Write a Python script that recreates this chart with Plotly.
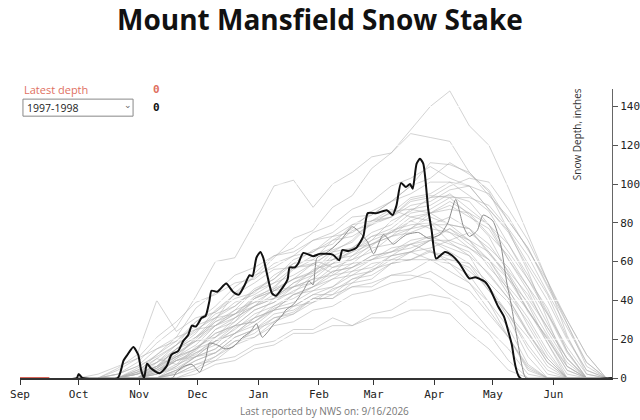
import pandas as pd
import plotly.graph_objects as go

SEASON_START = "1997-09-01"
MONTH_TICKS = ["1997-09-01", "1997-10-01", "1997-11-01", "1997-12-01", "1998-01-01",
               "1998-02-01", "1998-03-01", "1998-04-01", "1998-05-01", "1998-06-01"]
MONTH_LABELS = ["Sep", "Oct", "Nov", "Dec", "Jan", "Feb", "Mar", "Apr", "May", "Jun"]
Y_TICKS = [0, 20, 40, 60, 80, 100, 120, 140]

# day offsets (from Sep 1) for historical seasons (every 10 days)
grid_days = [30, 40, 50, 60, 70, 80, 90, 100, 110, 120, 130, 140, 150, 160, 170, 180,
             190, 200, 210, 220, 230, 240, 250, 260, 270, 280, 290, 300]

history = [
    [0, 0, 0, 2, 6, 12, 20, 30, 44, 52, 62, 72, 76, 88, 94, 108, 116, 128, 140, 148, 130, 120, 98, 74, 50, 22, 2, 0],
    [0, 0, 2, 8, 18, 26, 42, 60, 62, 80, 99, 102, 88, 100, 106, 114, 116, 126, 124, 122, 106, 96, 76, 55, 30, 6, 0, 0],
    [0, 0, 0, 0, 5, 11, 17, 27, 33, 42, 46, 57, 58, 66, 70, 80, 83, 92, 94, 93, 84, 73, 54, 38, 18, 0, 0, 0],
    [0, 0, 0, 4, 10, 7, 16, 21, 31, 37, 46, 51, 59, 54, 63, 68, 76, 79, 80, 70, 63, 46, 31, 11, 0, 0, 0, 0],
    [0, 0, 0, 0, 2, 6, 13, 17, 26, 31, 41, 44, 53, 59, 66, 71, 81, 86, 93, 94, 91, 79, 69, 51, 36, 14, 0, 0],
    [0, 0, 5, 12, 40, 24, 31, 34, 43, 49, 56, 57, 63, 67, 76, 79, 86, 87, 85, 79, 71, 57, 46, 27, 10, 0, 0, 0],
    [0, 0, 0, 0, 0, 4, 9, 13, 21, 25, 31, 34, 41, 41, 49, 51, 59, 61, 66, 59, 53, 39, 26, 7, 0, 0, 0, 0],
    [0, 0, 0, 3, 12, 19, 29, 34, 41, 44, 53, 59, 66, 69, 79, 84, 91, 99, 111, 110, 106, 94, 83, 66, 50, 30, 12, 0],
    [0, 0, 0, 0, 3, 10, 21, 27, 33, 37, 43, 47, 56, 59, 65, 69, 75, 77, 83, 79, 77, 64, 53, 34, 21, 4, 0, 0],
    [0, 0, 0, 0, 0, 2, 5, 11, 17, 25, 29, 37, 39, 46, 49, 56, 59, 65, 61, 59, 49, 39, 21, 5, 0, 0, 0, 0],
    [0, 0, 2, 6, 15, 21, 36, 44, 53, 57, 63, 65, 71, 75, 83, 84, 91, 95, 101, 101, 99, 87, 76, 59, 43, 21, 4, 0],
    [0, 0, 0, 0, 5, 12, 19, 21, 27, 29, 36, 39, 45, 47, 55, 57, 63, 65, 71, 67, 63, 54, 41, 24, 8, 0, 0, 0],
    [0, 0, 0, 2, 4, 9, 12, 21, 29, 41, 45, 51, 54, 63, 67, 75, 79, 87, 89, 95, 87, 79, 61, 45, 24, 8, 0, 0],
    [0, 0, 0, 0, 8, 17, 24, 33, 37, 46, 51, 59, 61, 57, 61, 65, 73, 77, 85, 87, 85, 74, 63, 47, 33, 13, 0, 0],
    [0, 0, 0, 0, 0, 0, 4, 9, 11, 17, 19, 25, 25, 31, 27, 33, 35, 41, 43, 41, 31, 23, 9, 0, 0, 0, 0, 0],
    [0, 0, 4, 10, 21, 29, 39, 43, 49, 51, 59, 63, 71, 73, 79, 81, 87, 83, 81, 75, 71, 61, 51, 35, 20, 4, 0, 0],
    [0, 0, 0, 0, 2, 9, 14, 25, 31, 41, 47, 56, 61, 71, 77, 86, 91, 99, 103, 111, 105, 97, 81, 67, 47, 28, 8, 0],
    [0, 0, 0, 0, 0, 4, 11, 15, 23, 27, 35, 37, 43, 47, 53, 55, 61, 61, 61, 55, 49, 35, 21, 4, 0, 0, 0, 0],
    [0, 0, 0, 3, 6, 15, 21, 31, 37, 45, 49, 57, 59, 65, 67, 73, 75, 81, 77, 75, 67, 59, 43, 29, 12, 0, 0, 0],
    [0, 0, 0, 0, 4, 10, 15, 23, 27, 35, 39, 47, 51, 59, 61, 69, 73, 81, 85, 91, 85, 79, 65, 51, 33, 16, 2, 0],
    [0, 0, 0, 0, 0, 6, 15, 19, 27, 29, 35, 37, 43, 43, 47, 49, 53, 53, 51, 43, 37, 25, 15, 2, 0, 0, 0, 0],
    [0, 0, 2, 6, 11, 17, 29, 37, 47, 54, 63, 67, 75, 79, 87, 91, 99, 103, 109, 103, 99, 87, 75, 57, 40, 20, 4, 0],
    [0, 0, 0, 0, 3, 9, 13, 19, 23, 31, 35, 43, 47, 55, 57, 63, 65, 71, 73, 77, 69, 61, 45, 31, 14, 0, 0, 0],
    [0, 0, 0, 2, 10, 17, 25, 27, 35, 39, 45, 47, 51, 53, 59, 61, 65, 67, 71, 65, 59, 45, 33, 15, 2, 0, 0, 0],
    [0, 0, 0, 0, 0, 3, 9, 13, 21, 25, 33, 35, 41, 41, 47, 47, 53, 55, 61, 61, 59, 49, 39, 23, 10, 0, 0, 0],
    [0, 0, 0, 4, 8, 13, 19, 29, 35, 45, 51, 61, 65, 73, 75, 81, 83, 89, 91, 97, 99, 95, 81, 67, 48, 30, 12, 0],
    [0, 0, 0, 0, 2, 5, 11, 15, 23, 29, 37, 41, 47, 51, 57, 61, 67, 69, 73, 69, 65, 53, 41, 23, 8, 0, 0, 0],
    [0, 0, 0, 2, 6, 11, 15, 23, 27, 35, 39, 45, 49, 57, 59, 67, 69, 77, 79, 83, 77, 69, 55, 43, 26, 10, 0, 0],
    [0, 0, 0, 0, 0, 0, 2, 7, 9, 15, 17, 23, 23, 27, 27, 31, 31, 35, 35, 33, 23, 15, 4, 0, 0, 0, 0, 0],
    [0, 0, 0, 5, 12, 21, 25, 31, 33, 39, 41, 49, 55, 65, 71, 81, 85, 93, 95, 101, 94, 86, 69, 53, 34, 14, 0, 0],
    [0, 0, 0, 0, 4, 11, 15, 25, 29, 37, 41, 47, 49, 55, 57, 63, 65, 69, 65, 63, 55, 47, 33, 21, 6, 0, 0, 0],
    [0, 2, 6, 10, 15, 19, 27, 31, 39, 43, 49, 53, 59, 61, 67, 69, 73, 75, 79, 79, 77, 65, 53, 35, 18, 2, 0, 0],
    [0, 0, 0, 0, 0, 2, 7, 11, 19, 23, 31, 33, 39, 43, 51, 55, 63, 65, 71, 71, 75, 67, 57, 41, 26, 10, 0, 0],
    [0, 0, 0, 0, 3, 9, 11, 19, 25, 33, 37, 43, 45, 51, 53, 59, 61, 65, 67, 71, 67, 61, 47, 35, 20, 6, 0, 0],
    [0, 0, 0, 2, 5, 15, 23, 35, 43, 53, 57, 63, 65, 71, 73, 79, 83, 91, 93, 99, 103, 101, 87, 71, 50, 28, 6, 0],
    [0, 0, 0, 0, 0, 4, 11, 13, 19, 21, 27, 29, 35, 37, 43, 45, 49, 51, 55, 49, 45, 33, 21, 6, 0, 0, 0, 0],
    [0, 0, 0, 3, 8, 15, 19, 27, 31, 37, 41, 49, 53, 61, 63, 71, 75, 83, 85, 89, 83, 77, 61, 47, 28, 10, 0, 0],
    [0, 0, 0, 0, 2, 7, 11, 19, 23, 31, 35, 43, 47, 53, 55, 61, 63, 69, 71, 77, 71, 65, 51, 39, 22, 6, 0, 0],
    [0, 0, 0, 0, 6, 15, 21, 29, 33, 41, 45, 51, 55, 61, 65, 73, 77, 85, 87, 93, 93, 89, 77, 63, 44, 26, 8, 0],
    [0, 0, 0, 0, 0, 2, 7, 9, 17, 21, 29, 33, 41, 45, 51, 53, 59, 61, 65, 61, 57, 45, 33, 17, 4, 0, 0, 0],
]

# a darker highlighted season
mid_days = [40, 78, 80, 84, 88, 92, 95, 97, 101, 105, 109, 114, 118, 121, 124, 127, 130, 134, 136,
            140, 145, 148, 150, 152, 156, 160, 165, 170, 174, 178, 181, 186, 191, 195, 198, 204,
            209, 215, 219, 223, 227, 230, 234, 237, 242, 246, 249, 251, 254, 257, 259, 300]
mid_depth = [0, 0, 3, 6, 7, 3, 10, 18, 17, 15, 16, 21, 24, 28, 21, 24, 28, 32, 35,
             38, 45, 50, 48, 62, 64, 67, 72, 78, 75, 70, 64, 74, 69, 72, 74, 75,
             72, 74, 80, 92, 78, 73, 76, 84, 81, 69, 50, 40, 23, 6, 0, 0]

# selected season 1997-1998
sel_days = [0, 29, 30, 31, 32, 50, 53, 55, 58, 60.5, 62, 63.5, 65, 67, 71.5, 75, 77.5, 81, 83.5,
            86, 88, 90, 93, 95, 97, 98, 101, 105.5, 109, 112, 115, 117.5, 119, 121, 123, 124.5,
            126, 129, 131, 134.7, 137, 138, 140.7, 142.4, 145, 150, 153.5, 160, 163.4, 165, 168,
            172, 175.7, 178, 182.5, 187.7, 190.7, 192.7, 195, 197.5, 199.6, 201, 203, 204.7,
            206.4, 209, 210.7, 213, 217.5, 221, 225, 230, 233, 238, 240.5, 244.8, 247.7, 251.6,
            256, 303]
sel_depth = [0, 0, 2, 1, 0, 0, 9, 12, 16, 12, 4, 0, 7.5, 5, 2.4, 6, 12, 14, 19,
             22, 27, 26.5, 31, 32, 40, 45, 44.5, 48.7, 44.5, 43, 48, 53, 52.5, 62, 65, 62,
             55.6, 43.6, 42.4, 47, 51, 57, 57, 59, 64.5, 62.8, 64, 63.6, 60.7, 66, 65.5,
             67, 73, 85, 85, 86.5, 84, 89, 100.5, 98.5, 100, 97.6, 110.5, 113,
             110.5, 86.5, 76, 61.6, 65, 63.3, 59, 51.3, 52, 49.6, 46, 36.7, 31.6, 17.8,
             0, 0]

# current season (latest report)
cur_days = [0, 15]
cur_depth = [0, 0]

start = pd.Timestamp(SEASON_START)
def to_dates(days):
    return [start + pd.Timedelta(days=float(d)) for d in days]

fig = go.Figure()
grid_x = to_dates(grid_days)
for vals in history:
    fig.add_trace(go.Scatter(x=grid_x, y=vals, mode="lines",
                             line=dict(color="rgba(175,175,175,0.55)", width=1)))

x_end = start + pd.Timedelta(days=303)
for yv in Y_TICKS[1:]:
    fig.add_trace(go.Scatter(x=[start, x_end], y=[yv, yv], mode="lines",
                             line=dict(color="rgba(255,255,255,0.8)", width=1)))

fig.add_trace(go.Scatter(x=to_dates(mid_days), y=mid_depth, mode="lines",
                         line=dict(color="#8a8a8a", width=1, shape="spline", smoothing=0.6)))
fig.add_trace(go.Scatter(x=to_dates(sel_days), y=sel_depth, mode="lines",
                         line=dict(color="#111111", width=2, shape="spline", smoothing=0.6)))
fig.add_trace(go.Scatter(x=to_dates(cur_days), y=cur_depth, mode="lines",
                         line=dict(color="#d9665a", width=2)))

mono = "DejaVu Sans Mono"
sans = "Open Sans"

fig.update_layout(
    width=640, height=420,
    margin=dict(l=20, r=28, t=89, b=42, autoexpand=False),
    paper_bgcolor="white", plot_bgcolor="white",
    showlegend=False, hovermode=False,
    title=dict(text="<b>Mount Mansfield Snow Stake</b>", x=0.5, xanchor="center",
               y=0.953, yanchor="middle", font=dict(family=sans, size=28, color="#111")),
    xaxis=dict(type="date", range=[start, x_end], tickvals=MONTH_TICKS, ticktext=MONTH_LABELS,
               ticks="outside", ticklen=5, tickcolor="#333", showgrid=False, zeroline=False,
               showline=True, linecolor="#333", linewidth=1.5, automargin=False,
               tickfont=dict(family=mono, size=11, color="#222")),
    yaxis=dict(range=[0, 149], side="right", tickvals=Y_TICKS, ticks="outside", ticklen=5,
               tickcolor="#555", showgrid=False, zeroline=False, showline=True,
               linecolor="#666", linewidth=1, automargin=False,
               tickfont=dict(family=mono, size=11, color="#222")),
)

fig.add_annotation(text="Snow Depth, inches", xref="paper", yref="paper", x=0.941, y=1.01,
                   xanchor="center", yanchor="top", textangle=-90, showarrow=False,
                   font=dict(family=sans, size=10, color="#333"))
fig.add_annotation(text="Latest depth", xref="paper", yref="paper", x=0.004, y=1.0,
                   xanchor="left", yanchor="middle", showarrow=False,
                   font=dict(family=sans, size=11, color="#e0705f"))
fig.add_annotation(text="<b>0</b>", xref="paper", yref="paper", x=0.231, y=1.0,
                   xanchor="center", yanchor="middle", showarrow=False,
                   font=dict(family=mono, size=11, color="#e0705f"))
fig.add_shape(type="rect", xref="paper", yref="paper", x0=0.005, x1=0.191, y0=0.906, y1=0.965,
              line=dict(color="#888", width=1), fillcolor="white")
fig.add_annotation(text="1997-1998", xref="paper", yref="paper", x=0.009, y=0.935,
                   xanchor="left", yanchor="middle", showarrow=False,
                   font=dict(family=sans, size=10.5, color="#222"))
fig.add_annotation(text="⌄", xref="paper", yref="paper", x=0.182, y=0.945,
                   xanchor="center", yanchor="middle", showarrow=False,
                   font=dict(family=sans, size=9, color="#666"))
fig.add_annotation(text="<b>0</b>", xref="paper", yref="paper", x=0.231, y=0.935,
                   xanchor="center", yanchor="middle", showarrow=False,
                   font=dict(family=mono, size=11, color="#111"))
fig.add_annotation(text="Last reported by NWS on: 9/16/2026", xref="paper", yref="paper",
                   x=0.515, y=-0.114, xanchor="center", yanchor="middle", showarrow=False,
                   font=dict(family=sans, size=10, color="#777"))

# remove the default page margin so the figure fills the 640x420 window exactly
fig.write_html("out.html", config={"displayModeBar": False},
               post_script="document.body.style.margin='0';")
